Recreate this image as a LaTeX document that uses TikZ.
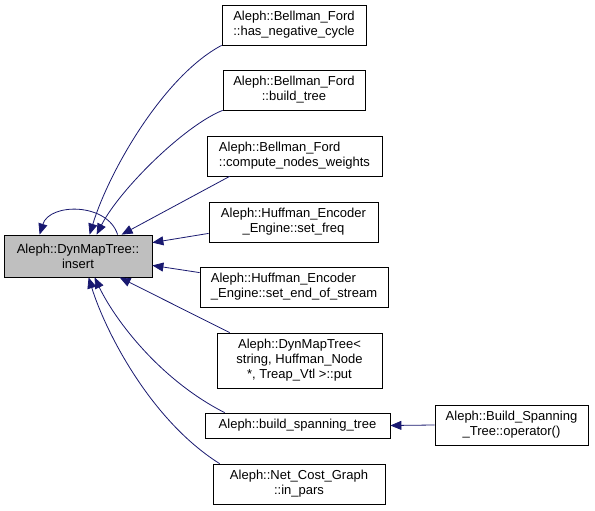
\documentclass[tikz,border=0pt]{standalone}
\usepackage{fontspec}
\setmainfont{Liberation Sans}
\usetikzlibrary{arrows.meta,calc}
\definecolor{edgecol}{HTML}{191970}
\definecolor{maingray}{HTML}{BFBFBF}
\begin{document}
\begin{tikzpicture}[x=1pt,y=-1pt,
  box/.style={draw=black, line width=0.8pt, fill=white, inner sep=0pt,
    font=\fontsize{13}{15}\selectfont, align=center},
  edge/.style={draw=edgecol, line width=0.8pt, -{Triangle[length=11pt,width=9pt]}}]
\useasboundingbox (0,0) rectangle (595,511);
\fill[white] (0,0) rectangle (595,511);

\node[box, fill=maingray, minimum width=148pt, minimum height=42pt] (main) at (78,256) {Aleph::DynMapTree::\\insert};
\node[box, minimum width=144pt, minimum height=40pt] (hnc) at (294,25) {Aleph::Bellman\_Ford\\::has\_negative\_cycle};
\node[box, minimum width=142pt, minimum height=40pt] (bt) at (294,90) {Aleph::Bellman\_Ford\\::build\_tree};
\node[box, align=left, minimum width=175pt, minimum height=40pt] (cnw) at (294.5,156) {Aleph::Bellman\_Ford\\::compute\_nodes\_weights};
\node[box, minimum width=169pt, minimum height=40pt] (sf) at (293.5,222) {Aleph::Huffman\_Encoder\\\_Engine::set\_freq};
\node[box, align=left, minimum width=188pt, minimum height=40pt] (seos) at (294,287) {Aleph::Huffman\_Encoder\\\_Engine::set\_end\_of\_stream};
\node[box, minimum width=165pt, minimum height=55pt] (put) at (299.5,360.5) {Aleph::DynMapTree<\\string, Huffman\_Node\\*, Treap\_Vtl >::put};
\node[box, minimum width=185pt, minimum height=25pt] (bst) at (297.5,425.5) {Aleph::build\_spanning\_tree};
\node[box, minimum width=172pt, minimum height=40pt] (inp) at (299,484) {Aleph::Net\_Cost\_Graph\\::in\_pars};
\node[box, minimum width=153pt, minimum height=40pt] (op) at (511.5,425) {Aleph::Build\_Spanning\\\_Tree::operator()};

% self loop
\draw[edge] ($(main.north west)+(114,0)$) .. controls +(-10,-32) and +(10,-32) .. ($(main.north west)+(36,0)$);
% incoming edges
\draw[edge] (hnc.south west) .. controls +(-57,30) and +(20,-65) .. ($(main.north west)+(86,0)$);
\draw[edge] (bt.south west) .. controls +(-38,15) and +(23,-45) .. ($(main.north west)+(93,0)$);
\draw[edge] ($(cnw.south west)+(23,0)$) -- ($(main.north west)+(118,0)$);
\draw[edge] ($(sf.south west)+(0,-9)$) -- ($(main.north east)+(0,8)$);
\draw[edge] ($(seos.north west)+(0,6)$) -- ($(main.south east)+(0,-12)$);
\draw[edge] ($(put.north west)+(13,0)$) -- ($(main.south west)+(116,0)$);
\draw[edge] ($(bst.north west)+(20,0)$) .. controls +(-65,-33) and +(20,42) .. ($(main.south west)+(91,0)$);
\draw[edge] ($(inp.north west)+(7,0)$) .. controls +(-70,-44) and +(16,52) .. ($(main.south west)+(85,0)$);
\draw[edge] (op.west) -- (bst.east);
\end{tikzpicture}
\end{document}
